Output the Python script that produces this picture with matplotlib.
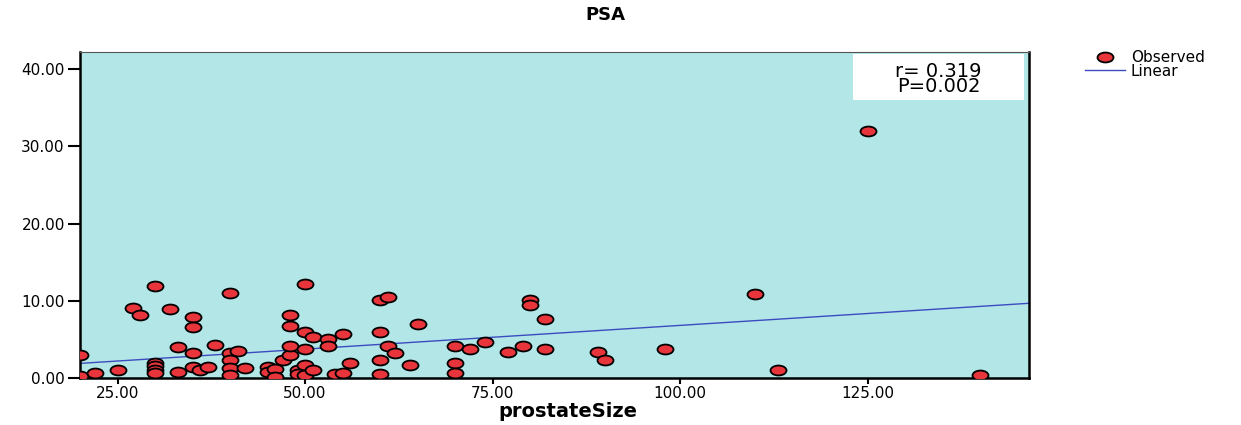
import numpy as np
import matplotlib.pyplot as plt
from matplotlib.path import Path
from matplotlib.transforms import Affine2D
from matplotlib.lines import Line2D
from matplotlib.patches import Rectangle
from matplotlib.ticker import FormatStrFormatter

prostate_size = [20, 20, 22, 25, 27, 28, 30, 30, 30, 30, 30, 32, 33, 33, 35, 35,
                 35, 35, 36, 37, 38, 40, 40, 40, 40, 40, 41, 42, 45, 45, 46, 46,
                 47, 48, 48, 48, 48, 49, 49, 50, 50, 50, 50, 50, 51, 51, 53, 53,
                 54, 55, 55, 56, 60, 60, 60, 60, 61, 61, 62, 64, 65, 70, 70, 70,
                 72, 74, 77, 79, 80, 80, 82, 82, 89, 90, 98, 110, 113, 125, 140]
psa = [3.0, 0.3, 0.6, 1.0, 9.1, 8.2, 11.9, 2.0, 1.5, 1.0, 0.6, 8.9, 4.0, 0.8, 7.9, 6.6,
       3.3, 1.4, 1.0, 1.4, 4.3, 11.0, 3.2, 2.3, 1.3, 0.4, 3.5, 1.3, 1.4, 0.8, 1.15, 0.1,
       2.3, 3.0, 4.2, 6.7, 8.2, 1.0, 0.5, 12.2, 5.9, 3.8, 1.7, 0.4, 5.3, 1.0, 5.0, 4.1,
       0.5, 5.7, 0.6, 2.0, 10.1, 6.0, 2.3, 0.5, 10.5, 4.2, 3.2, 1.7, 7.0, 4.1, 2.0, 0.7,
       3.7, 4.6, 3.4, 4.1, 10.1, 9.5, 7.6, 3.7, 3.4, 2.3, 3.7, 10.9, 1.0, 32.0, 0.35]

# Linear fit line
fit_intercept = 0.66
fit_slope = 0.0615
stats_text = "r= 0.319\nP=0.002"

fig = plt.figure(figsize=(12.41, 4.25), dpi=100)
ax = fig.add_axes([0.0645, 0.1106, 0.7645, 0.767])
ax.set_facecolor('#b3e6e6')

# SPSS-like flattened marker
ellipse = Path.unit_circle().transformed(Affine2D().scale(1, 0.62))
ax.plot(prostate_size, psa, ls='none', marker=ellipse, ms=11.5,
        mfc='#e8353b', mec='black', mew=1.3, zorder=3)

x_min, x_max = 20, 146.5
xs = np.array([x_min, x_max])
ax.plot(xs, fit_intercept + fit_slope * xs, color='#3b4cc0', lw=1, zorder=2)

ax.set_xlim(x_min, x_max)
ax.set_ylim(0, 42.2)
ax.set_xticks([25, 50, 75, 100, 125])
ax.set_yticks([0, 10, 20, 30, 40])
ax.xaxis.set_major_formatter(FormatStrFormatter('%.2f'))
ax.yaxis.set_major_formatter(FormatStrFormatter('%.2f'))
ax.tick_params(axis='y', length=9, width=1.5, labelsize=11, pad=2)
ax.tick_params(axis='x', length=4, width=1.5, labelsize=11, pad=2)
for side in ['left', 'bottom', 'right']:
    ax.spines[side].set_linewidth(1.8)
ax.spines['top'].set_linewidth(0.8)
ax.spines['top'].set_color('#555555')

fig.text(0.4577, 0.031, 'prostateSize', ha='center', va='center',
         fontsize=14, fontweight='bold')

# stats box
ax.add_patch(Rectangle((0.8145, 0.853), 0.18, 0.141, transform=ax.transAxes,
                       facecolor='white', edgecolor='none', zorder=4))
ax.text(0.905, 0.917, stats_text, transform=ax.transAxes, ha='center', va='center',
        fontsize=14, linespacing=0.75, zorder=5)

fig.text(0.4875, 0.965, 'PSA', ha='center', va='center', fontsize=13, fontweight='bold')

handles = [Line2D([], [], ls='none', marker=ellipse, ms=11.5, mfc='#e8353b',
                  mec='black', mew=1.3),
           Line2D([], [], color='#3b4cc0', lw=1)]
fig.legend(handles, ['Observed', 'Linear'], loc='upper left',
           bbox_to_anchor=(0.868, 0.9), frameon=False, fontsize=11,
           handlelength=2.6, handletextpad=0.4, labelspacing=-0.1, borderpad=0)

fig.savefig('out.png', dpi=100)
